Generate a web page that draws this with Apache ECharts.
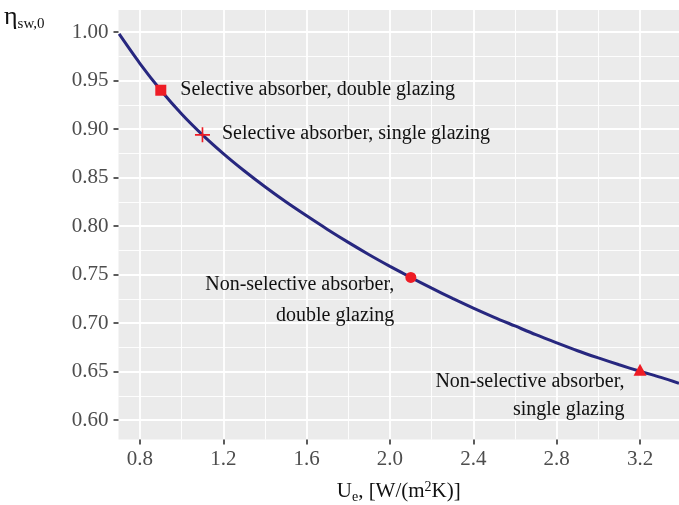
<!DOCTYPE html>
<html>
<head>
<meta charset="utf-8">
<script src="https://cdn.jsdelivr.net/npm/echarts@6/dist/echarts.min.js"></script>
<style>
html,body{margin:0;padding:0;background:#fff;}
#chart{width:679px;height:505px;}
</style>
</head>
<body>
<div id="chart"></div>
<script>
// Curve: U_e -> eta_sw,0
const curveX = [0.70, 0.80, 0.90, 1.00, 1.10, 1.20, 1.30, 1.40, 1.50, 1.60, 1.70, 1.80, 1.90, 2.00, 2.10, 2.20, 2.30, 2.40, 2.50, 2.60, 2.70, 2.80, 2.90, 3.00, 3.10, 3.20, 3.30, 3.387];
const curveY = [0.998, 0.9675, 0.940, 0.9155, 0.894, 0.8747, 0.857, 0.8405, 0.825, 0.8105, 0.7965, 0.7832, 0.7705, 0.7585, 0.747, 0.736, 0.7255, 0.7155, 0.706, 0.697, 0.688, 0.6796, 0.6715, 0.6641, 0.657, 0.6503, 0.644, 0.638];

// Marked collector types
const pointX = [0.9, 1.1, 2.1, 3.2];
const pointY = [0.940, 0.894, 0.747, 0.652];
const pointLabels = [
  'Selective absorber, double glazing',
  'Selective absorber, single glazing',
  'Non-selective absorber,\ndouble glazing',
  'Non-selective absorber,\nsingle glazing'
];

// Axis ticks
const xTicks = [0.8, 1.2, 1.6, 2.0, 2.4, 2.8, 3.2];
const xMinorTicks = [1.0, 1.4, 1.8, 2.2, 2.6, 3.0];
const yTicks = [0.60, 0.65, 0.70, 0.75, 0.80, 0.85, 0.90, 0.95, 1.00];
const yMinorTicks = [0.625, 0.675, 0.725, 0.775, 0.825, 0.875, 0.925, 0.975];

const X_MIN = 0.697, X_MAX = 3.387, Y_MIN = 0.580, Y_MAX = 1.0227;
const FONT = '"Liberation Serif", "Times New Roman", serif';
const RED = '#ee1c25';
const NAVY = '#27277f';

const chart = echarts.init(document.getElementById('chart'), null, {renderer: 'canvas'});

const symbols = [
  'rect',
  'path://M0,4.45h10v1.1h-10z M4.45,0h1.1v10h-1.1z',
  'circle',
  'triangle'
];
const sizes = [11, 15, 11, [13, 12]];
const labelCfg = [
  {position: 'right', distance: 14, align: 'left', offset: [0, 0], lineHeight: 31},
  {position: 'right', distance: 12, align: 'left', offset: [0, -1], lineHeight: 31},
  {position: 'left', distance: 12, align: 'right', offset: [1, 23], lineHeight: 31},
  {position: 'left', distance: 12, align: 'right', offset: [3, 26], lineHeight: 28}
];

const pointData = pointX.map((x, i) => ({
  value: [x, pointY[i]],
  symbol: symbols[i],
  symbolSize: sizes[i],
  label: Object.assign({
    show: true,
    formatter: pointLabels[i],
    color: '#111111',
    opacity: 1,
    fontFamily: FONT,
    fontSize: 20
  }, labelCfg[i])
}));

chart.setOption({
  animation: false,
  backgroundColor: '#ffffff',
  grid: {
    left: 118.5, right: 0, top: 10, bottom: 65.5,
    outerBoundsMode: 'none', containLabel: false,
    show: true, backgroundColor: '#ebebeb', borderWidth: 0
  },
  xAxis: [
    {
      type: 'value', min: X_MIN, max: X_MAX,
      axisLine: {show: false},
      axisTick: {show: true, length: 5, lineStyle: {color: '#333333', width: 1.6}, customValues: xTicks},
      splitLine: {show: true, lineStyle: {color: '#ffffff', width: 1.8}},
      axisLabel: {color: '#4d4d4d', fontFamily: FONT, fontSize: 21, margin: 9,
        customValues: xTicks, formatter: v => v.toFixed(1)},
      name: '{n|U}{s|e}{n|, [W/(m}{p|2}{n|K)]}',
      nameLocation: 'middle', nameGap: 41,
      nameTextStyle: {
        fontFamily: FONT, color: '#111111',
        rich: {
          n: {fontFamily: FONT, fontSize: 21, lineHeight: 24, verticalAlign: 'top', color: '#111111'},
          s: {fontFamily: FONT, fontSize: 14, lineHeight: 14, verticalAlign: 'bottom', color: '#111111'},
          p: {fontFamily: FONT, fontSize: 14, lineHeight: 14, verticalAlign: 'top', color: '#111111'}
        }
      }
    },
    {
      type: 'value', min: X_MIN, max: X_MAX, position: 'bottom',
      axisLine: {show: false}, axisLabel: {show: false},
      axisTick: {show: false, customValues: xMinorTicks},
      splitLine: {show: true, lineStyle: {color: '#ffffff', width: 0.9}}
    }
  ],
  yAxis: [
    {
      type: 'value', min: Y_MIN, max: Y_MAX,
      axisLine: {show: false},
      axisTick: {show: true, length: 5, lineStyle: {color: '#333333', width: 1.6}, customValues: yTicks},
      splitLine: {show: true, lineStyle: {color: '#ffffff', width: 1.8}},
      axisLabel: {color: '#4d4d4d', fontFamily: FONT, fontSize: 21, margin: 10,
        customValues: yTicks, formatter: v => v.toFixed(2)}
    },
    {
      type: 'value', min: Y_MIN, max: Y_MAX, position: 'left',
      axisLine: {show: false}, axisLabel: {show: false},
      axisTick: {show: false, customValues: yMinorTicks},
      splitLine: {show: true, lineStyle: {color: '#ffffff', width: 0.9}}
    }
  ],
  graphic: [
    {
      type: 'text', left: 4, top: 4,
      style: {
        text: '{e|η}{s|sw,0}',
        rich: {
          e: {fontFamily: FONT, fontSize: 26, lineHeight: 28, verticalAlign: 'top', fill: '#111111'},
          s: {fontFamily: FONT, fontSize: 15, lineHeight: 16, verticalAlign: 'bottom', fill: '#111111'}
        }
      }
    }
  ],
  series: [
    {
      type: 'line',
      xAxisIndex: 0, yAxisIndex: 0,
      data: curveX.map((x, i) => [x, curveY[i]]),
      smooth: 0.3,
      showSymbol: false,
      lineStyle: {color: NAVY, width: 3},
      z: 2
    },
    {
      type: 'scatter',
      xAxisIndex: 0, yAxisIndex: 0,
      data: pointData,
      itemStyle: {color: RED, opacity: 1},
      z: 3
    }
  ]
});
</script>
</body>
</html>
